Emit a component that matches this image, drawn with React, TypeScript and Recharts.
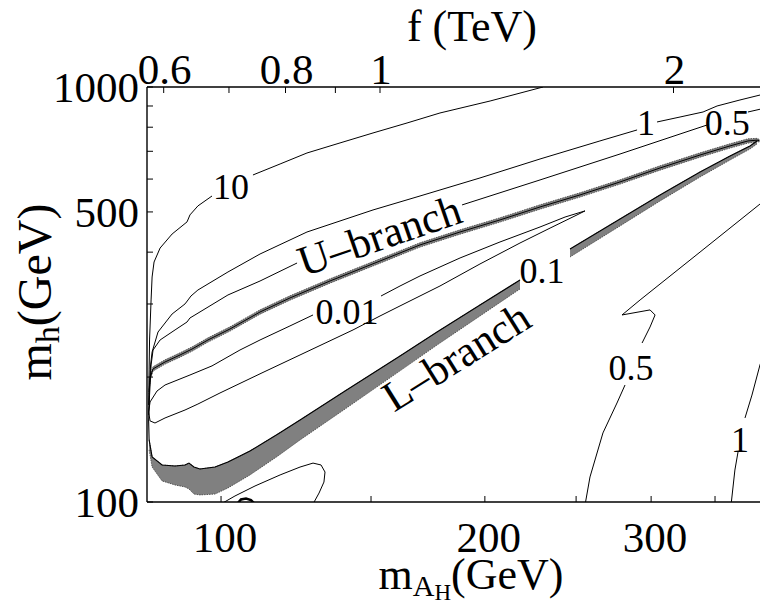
import React from 'react';
import { ComposedChart, Line, Area, Scatter, XAxis, YAxis } from 'recharts';

const SERIF = "'Liberation Serif', 'Times New Roman', 'DejaVu Serif', serif";

// axes (x data = f in TeV, log scale; y = m_h in GeV, log scale)
const fDomain = [0.5768, 2.5];
const mhDomain = [100, 1000];

// bottom axis: m_AH ticks placed at the f they correspond to
const mAHTickF = [0.687, 0.979, 1.281, 1.589, 1.897, 2.206];
const mAHTickLabels = ['100', '', '200', '', '300', ''];
// top axis: f (TeV)
const fTicks = [0.6, 0.7, 0.8, 0.9, 1, 2];
const fTickLabels = ['0.6', '', '0.8', '', '1', '2'];
// left axis: m_h (GeV)
const mhTicks = [100, 200, 300, 400, 500, 600, 700, 800, 900, 1000];
const mhTickLabels = ['100', '', '', '', '500', '', '', '', '', '1000'];

// contour lines, [f (TeV), m_h (GeV)]
const omega10A = [[0.579, 171.3], [0.5797, 208.1], [0.5803, 245.7], [0.5824, 306.8], [0.5838, 348.5], [0.5865, 378.7], [0.5949, 409.2], [0.612, 442.3], [0.634, 473.1], [0.6384, 491.8], [0.6505, 516.9], [0.6725, 546.2]];
const omega10B = [[0.7408, 613.8], [0.7898, 652.4], [0.8416, 693.4], [0.9099, 733.2], [0.9836, 774.9], [1.0659, 819.0], [1.1522, 865.8], [1.2969, 925.2], [1.4695, 1000]];

const omega1A = [[0.579, 162.1], [0.5803, 191.4], [0.5817, 213.9], [0.5838, 229.8], [0.592, 256.8], [0.612, 283.8], [0.631, 300.1], [0.6355, 306.8], [0.6399, 313.6], [0.6505, 324.2], [0.6983, 358.3], [0.7533, 395.9], [0.8416, 447.3], [0.9836, 505.5], [1.0991, 546.2], [1.2663, 603.7], [1.4592, 670.7], [1.681, 741.3], [1.8351, 788.0]];
const omega1B = [[1.9237, 823.6], [2.0311, 846.6], [2.1445, 870.5], [2.2166, 900], [2.34, 930.5], [2.5, 967]];

const omega05UA = [[0.579, 157.6], [0.5803, 181.0], [0.5824, 213.9], [0.5851, 232.4], [0.5949, 245.7], [0.6163, 259.8], [0.634, 271.5], [0.6384, 277.6], [0.646, 282.3], [0.6983, 315.4], [0.7533, 340.8], [0.8221, 376.6]];
const omega05UB = [[1.2138, 519.8], [1.4592, 597.1], [1.7627, 689.5], [2.0311, 770.5], [2.1649, 809.9]];
const omega05UC = [[2.3845, 870.5], [2.5, 893]];

const omega001Loop = [[1.0024, 313.6], [1.0484, 331.5], [1.0991, 350.5], [1.2081, 387.3], [1.3276, 423.2], [1.4592, 459.9], [1.548, 486.0], [1.6228, 502.8], [1.5925, 491.8], [1.4942, 457.1], [1.3918, 420.8], [1.2663, 374.6], [1.1522, 331.5], [1.0484, 296.8], [1.0, 280.7], [0.9383, 259.8], [0.8279, 226.1], [0.7568, 204.7], [0.6853, 183.1], [0.6505, 172.2], [0.631, 166.6], [0.6019, 159.4], [0.5878, 155.0], [0.581, 156.8], [0.579, 164.8], [0.581, 174.2], [0.5906, 185.1], [0.6019, 191.4], [0.6384, 202.3], [0.6725, 212.8], [0.7184, 232.4], [0.7533, 245.7], [0.8084, 265.6], [0.8537, 282.3]];

const omega05LA = [[1.6228, 98.3], [1.642, 114.9], [1.693, 146.7], [1.75, 173.2], [1.7836, 191.4]];
const omega05LB = [[1.8569, 241.6], [1.8922, 264.1], [1.9148, 282.3], [1.8922, 290.3], [1.771, 282.3], [1.8482, 306.8], [2.1294, 400.2], [2.512, 546.2]];

const omega1LA = [[2.291, 98.3], [2.312, 119.4], [2.3291, 132.0]];
const omega1LB = [[2.3678, 159.4], [2.4071, 181.0], [2.4531, 213.9], [2.512, 252.6]];

const cornerLoop = [[0.6869, 98.9], [0.71, 103.4], [0.7444, 109.3], [0.7898, 116.2], [0.8279, 121.4], [0.8537, 124.1], [0.87, 122.8], [0.8782, 118.1], [0.876, 111.7], [0.8659, 105.1], [0.8537, 98.9]];
const cornerBlob = [[0.7149, 99.4], [0.7201, 101.4], [0.7288, 101.9], [0.7373, 101.1], [0.7426, 99.4]];

// WMAP-allowed bands, [f, m_h low, m_h high]
const uBand = [[0.5797, 181.9, 186.3], [0.581, 196.6, 201.4], [0.5851, 206.8, 211.8], [0.6019, 214.9, 220.1], [0.6236, 223.4, 228.8], [0.6414, 230.8, 236.4], [0.6661, 242.8, 248.6], [0.7017, 258.1, 264.3], [0.7533, 283.6, 290.4], [0.8084, 306.5, 313.9], [0.8886, 336.8, 344.9], [1.0, 376.3, 385.4], [1.0991, 411.4, 421.3], [1.2081, 442.0, 452.7], [1.3276, 472.6, 484.0], [1.4592, 507.8, 520.1], [1.6036, 542.9, 556.0], [1.7627, 583.5, 597.6], [1.9374, 630.5, 645.8], [2.1294, 677.6, 693.9], [2.2856, 712.6, 729.8], [2.3845, 732.5, 750.2], [2.436, 737, 752], [2.45, 738, 747]];
const lBandA = [[0.5797, 133.5, 141.1], [0.5838, 121.4, 128.4], [0.5977, 112.4, 122.8], [0.6163, 109.9, 122.1], [0.631, 108.7, 122.8], [0.6369, 107.5, 124.1], [0.6444, 104.5, 121.4], [0.6536, 104.0, 120.1], [0.6773, 104.5, 121.4], [0.6983, 108.1, 124.8], [0.7356, 116.2, 132.7], [0.7858, 129.1, 145.8], [0.8279, 141.1, 157.6], [0.9207, 167.5, 185.1], [1.0484, 207.0, 224.8], [1.1441, 238.9, 256.8], [1.2663, 280.7, 298.4], [1.3918, 326.1, 342.7]];
const lBandB = [[1.5664, 389.4, 407.0], [1.7627, 462.6, 481.0], [1.9374, 531.4, 549.4], [2.1294, 607.0, 624.2], [2.2856, 667.0, 681.9], [2.3958, 709.0, 721.1], [2.436, 729.2, 741.3]];

const contourLabels = [
  { text: '10', f: 0.7035, m: 574.1 },
  { text: '1', f: 1.874, m: 819.0 },
  { text: '0.5', f: 2.27, m: 821 },
  { text: '0.1', f: 1.466, m: 359.3 },
  { text: '0.01', f: 0.9251, m: 287.0 },
  { text: '0.5', f: 1.809, m: 210.4 },
  { text: '1', f: 2.34, m: 141.1 },
];
const branchLabels = [
  { text: 'U–branch', f: 1.0, m: 435.1 },
  { text: 'L–branch', f: 1.1995, m: 222.3 },
];

const pts = (arr: number[][]) => arr.map(([f, m]) => ({ f, m }));
const bandPts = (arr: number[][]) => arr.map(([f, lo, hi]) => ({ f, range: [lo, hi] }));
const bandTop = (arr: number[][]) => arr.map(([f, , hi]) => ({ f, m: hi }));
const bandMid = (arr: number[][]) => arr.map(([f, lo, hi]) => ({ f, m: Math.sqrt(lo * hi) }));

const contourSets = [omega10A, omega10B, omega1A, omega1B, omega05UA, omega05UB, omega05UC, omega001Loop, omega05LA, omega05LB, omega1LA, omega1LB, cornerLoop];

const TICK_FS = 43;

const BottomTick = (props: any) => {
  const { x, y, index } = props;
  const label = mAHTickLabels[index];
  return (
    <g>
      <line x1={x} x2={x} y1={y} y2={y - 6} stroke="#000" strokeWidth={1} />
      {label ? (
        <text x={x + 4} y={y + 50} textAnchor="middle" fontFamily={SERIF} fontSize={TICK_FS} fill="#000">{label}</text>
      ) : null}
    </g>
  );
};

const TopTick = (props: any) => {
  const { x, y, index } = props;
  const label = fTickLabels[index];
  return (
    <g>
      <line x1={x} x2={x} y1={y} y2={y + 6} stroke="#000" strokeWidth={1} />
      {label ? (
        <text x={x + 1} y={y - 3} textAnchor="middle" fontFamily={SERIF} fontSize={TICK_FS} fill="#000">{label}</text>
      ) : null}
    </g>
  );
};

const LeftTick = (props: any) => {
  const { x, y, index } = props;
  const label = mhTickLabels[index];
  return (
    <g>
      <line x1={x} x2={x + 6} y1={y} y2={y} stroke="#000" strokeWidth={1} />
      {label ? (
        <text x={x - 8} y={y + 15} textAnchor="end" fontFamily={SERIF} fontSize={TICK_FS} fill="#000">{label}</text>
      ) : null}
    </g>
  );
};

const ContourLabel = (props: any) => {
  const { cx, cy, payload } = props;
  return (
    <text x={cx} y={cy + 12} textAnchor="middle" fontFamily={SERIF} fontSize={36} fill="#000">{payload.text}</text>
  );
};

const branchAngle: Record<string, number> = { 'U–branch': -19, 'L–branch': -32 };
const BranchLabel = (props: any) => {
  const { cx, cy, payload } = props;
  const a = branchAngle[payload.text] || 0;
  return (
    <text transform={`translate(${cx},${cy}) rotate(${a})`} x={0} y={13} textAnchor="middle" fontFamily={SERIF} fontSize={43} fill="#000">{payload.text}</text>
  );
};

export default function App() {
  return (
    <div style={{ position: 'absolute', left: 0, top: 0, width: 760, height: 604, overflow: 'hidden', background: '#fff' }}>
      <ComposedChart width={768} height={604} margin={{ top: 86, right: 0, bottom: 101, left: 146 }}>
        <XAxis xAxisId="b" dataKey="f" type="number" scale="log" domain={fDomain} allowDataOverflow orientation="bottom" height={1}
          ticks={mAHTickF} interval={0} tickSize={0} tickMargin={0} tickLine={false} tick={<BottomTick />}
          axisLine={{ stroke: '#000', strokeWidth: 1.4 }} />
        <XAxis xAxisId="t" dataKey="f" type="number" scale="log" domain={fDomain} allowDataOverflow orientation="top" height={1}
          ticks={fTicks} interval={0} tickSize={0} tickMargin={0} tickLine={false} tick={<TopTick />}
          axisLine={{ stroke: '#000', strokeWidth: 1.4 }} />
        <YAxis yAxisId="l" type="number" scale="log" domain={mhDomain} allowDataOverflow orientation="left" width={1}
          ticks={mhTicks} interval={0} tickSize={0} tickMargin={0} tickLine={false} tick={<LeftTick />}
          axisLine={{ stroke: '#000', strokeWidth: 1.4 }} />

        {[uBand, lBandA, lBandB].map((b, i) => (
          <Area key={`band${i}`} xAxisId="b" yAxisId="l" data={bandPts(b)} dataKey="range" type="linear"
            fill="#808080" fillOpacity={1} stroke="#3c3c3c" strokeWidth={0.8} strokeDasharray="1.5 1"
            isAnimationActive={false} dot={false} activeDot={false} />
        ))}

        <Line xAxisId="b" yAxisId="l" data={bandMid(uBand)} dataKey="m" type="linear" stroke="#000" strokeWidth={1}
          dot={false} activeDot={false} isAnimationActive={false} />
        <Line xAxisId="b" yAxisId="l" data={[{ f: 0.579, m: 157.6 }, ...bandTop(lBandA)]} dataKey="m" type="linear" stroke="#000" strokeWidth={1.1}
          dot={false} activeDot={false} isAnimationActive={false} />
        <Line xAxisId="b" yAxisId="l" data={bandTop(lBandB)} dataKey="m" type="linear" stroke="#000" strokeWidth={1.1}
          dot={false} activeDot={false} isAnimationActive={false} />

        {contourSets.map((c, i) => (
          <Line key={`c${i}`} xAxisId="b" yAxisId="l" data={pts(c)} dataKey="m" type="linear" stroke="#000" strokeWidth={1}
            dot={false} activeDot={false} isAnimationActive={false} />
        ))}
        <Line xAxisId="b" yAxisId="l" data={pts(cornerBlob)} dataKey="m" type="linear" stroke="#000" strokeWidth={2.5}
          dot={false} activeDot={false} isAnimationActive={false} />

        <Scatter xAxisId="b" yAxisId="l" data={contourLabels} dataKey="m" shape={<ContourLabel />} isAnimationActive={false} />
        <Scatter xAxisId="b" yAxisId="l" data={branchLabels} dataKey="m" shape={<BranchLabel />} isAnimationActive={false} />
      </ComposedChart>
      <svg width={760} height={604} style={{ position: 'absolute', left: 0, top: 0, pointerEvents: 'none' }}>
        <text x={472} y={41} textAnchor="middle" fontFamily={SERIF} fontSize={44} fill="#000">f (TeV)</text>
        <text x={471} y={589} textAnchor="middle" fontFamily={SERIF} fontSize={44} fill="#000">
          m<tspan fontSize={30} dy={7}>A</tspan><tspan fontSize={23} dy={4}>H</tspan><tspan fontSize={44} dy={-11}>(GeV)</tspan>
        </text>
        <text transform="translate(51,292) rotate(-90)" x={0} y={0} textAnchor="middle" fontFamily={SERIF} fontSize={48} fill="#000">
          m<tspan fontSize={34} dy={8}>h</tspan><tspan fontSize={48} dy={-8}>(GeV)</tspan>
        </text>
      </svg>
    </div>
  );
}
